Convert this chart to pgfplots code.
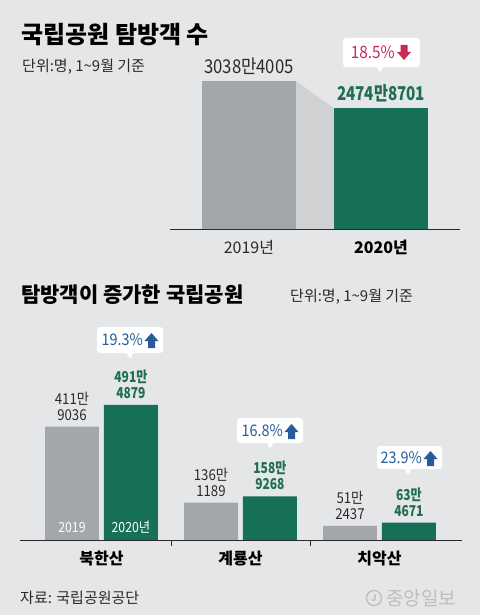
\documentclass[border=0pt]{standalone}
\usepackage{fontspec}
\setmainfont{Noto Sans CJK KR}
\usepackage{graphicx}
\usepackage{pgfplots}
\pgfplotsset{compat=1.18}

\definecolor{bg}{HTML}{E5E6E8}
\definecolor{gbar}{HTML}{A3A6AB}
\definecolor{gre}{HTML}{167058}
\definecolor{conn}{HTML}{D0D1D3}
\definecolor{gtxt}{HTML}{1F6E50}
\definecolor{crim}{HTML}{C92A55}
\definecolor{blu}{HTML}{265C9C}
\definecolor{dtxt}{HTML}{2A2A2A}
\definecolor{logo}{HTML}{BDBEC0}

\newcommand{\cn}[1]{\scalebox{0.88}[1]{#1}}
\newcommand{\cb}[1]{\scalebox{0.8}[1]{\bfseries #1}}

\pgfplotstableread{
x y
-0.212 411.9036
0.788 136.1189
1.788 51.2437
}\yrA
\pgfplotstableread{
x y
0.212 491.4879
1.212 158.9268
2.212 63.4671
}\yrB

\begin{document}
\begin{tikzpicture}
\useasboundingbox (0pt,0pt) rectangle (480pt,-615pt);
\fill[bg] (0pt,0pt) rectangle (480pt,-615pt);

% top chart
\begin{axis}[at={(170pt,-229pt)}, anchor=south west, scale only axis,
  width=290pt, height=180pt, xmin=-0.598, xmax=1.598, ymin=0, ymax=3695,
  hide axis, clip=false]
\addplot[draw=none, fill=conn] coordinates {(0.356,3038.4005) (0.644,2474.8701) (0.644,0) (0.356,0)} -- cycle;
\addplot[ybar, bar width=0.712, bar shift=0pt, fill=gbar, draw=none] coordinates {(0,3038.4005)};
\addplot[ybar, bar width=0.712, bar shift=0pt, fill=gre, draw=none] coordinates {(1,2474.8701)};
\draw[dtxt, line width=0.8pt] (axis cs:-0.598,0) -- (axis cs:1.598,0);
\node[anchor=base, inner sep=0pt, yshift=7pt, font=\fontsize{19}{19}\selectfont, text=dtxt] at (axis cs:0,3038.4005) {\cn{3038만4005}};
\node[anchor=base, inner sep=0pt, yshift=8pt, font=\fontsize{19}{19}\selectfont, text=gtxt] at (axis cs:1,2474.8701) {\cb{2474만8701}};
\node[anchor=base, inner sep=0pt, yshift=-24pt, font=\fontsize{16}{16}\selectfont, text=dtxt] at (axis cs:0,0) {2019년};
\node[anchor=base, inner sep=0pt, yshift=-24pt, font=\fontsize{16}{16}\selectfont\bfseries, text=black] at (axis cs:1,0) {2020년};
\end{axis}

% bottom chart
\begin{axis}[at={(20pt,-540pt)}, anchor=south west, scale only axis,
  width=442pt, height=220pt, xmin=-0.586, xmax=2.594, ymin=0, ymax=800,
  hide axis, clip=false]
\addplot[ybar, bar width=0.388, bar shift=0pt, fill=gbar, draw=none] table[x=x,y=y] {\yrA};
\addplot[ybar, bar width=0.388, bar shift=0pt, fill=gre, draw=none] table[x=x,y=y] {\yrB};
\draw[dtxt, line width=0.8pt] (axis cs:-0.586,0) -- (axis cs:2.594,0);
\draw[dtxt, line width=0.8pt] (axis cs:0.5,0) -- ++(0pt,-6pt);
\draw[dtxt, line width=0.8pt] (axis cs:1.5,0) -- ++(0pt,-6pt);
\node[anchor=base, inner sep=0pt, yshift=-24pt, font=\fontsize{16}{16}\selectfont\bfseries, text=black] at (axis cs:0,0) {북한산};
\node[anchor=base, inner sep=0pt, yshift=-24pt, font=\fontsize{16}{16}\selectfont\bfseries, text=black] at (axis cs:1,0) {계룡산};
\node[anchor=base, inner sep=0pt, yshift=-24pt, font=\fontsize{16}{16}\selectfont\bfseries, text=black] at (axis cs:2,0) {치악산};
\node[anchor=base, inner sep=0pt, yshift=8pt, font=\fontsize{14}{14}\selectfont, text=white] at (axis cs:-0.212,0) {\cn{2019}};
\node[anchor=base, inner sep=0pt, yshift=8pt, font=\fontsize{14}{14}\selectfont, text=white] at (axis cs:0.212,0) {\cn{2020년}};
\node[anchor=south, align=center, inner sep=0pt, yshift=6pt, font=\fontsize{15}{16}\selectfont, text=dtxt] at (axis cs:-0.212,411.9036) {\cn{411만}\\\cn{9036}};
\node[anchor=south, align=center, inner sep=0pt, yshift=6pt, font=\fontsize{15}{16}\selectfont, text=gtxt] at (axis cs:0.212,491.4879) {\cb{491만}\\\cb{4879}};
\node[anchor=south, align=center, inner sep=0pt, yshift=6pt, font=\fontsize{15}{16}\selectfont, text=dtxt] at (axis cs:0.788,136.1189) {\cn{136만}\\\cn{1189}};
\node[anchor=south, align=center, inner sep=0pt, yshift=6pt, font=\fontsize{15}{16}\selectfont, text=gtxt] at (axis cs:1.212,158.9268) {\cb{158만}\\\cb{9268}};
\node[anchor=south, align=center, inner sep=0pt, yshift=6pt, font=\fontsize{15}{16}\selectfont, text=dtxt] at (axis cs:1.788,51.2437) {\cn{51만}\\\cn{2437}};
\node[anchor=south, align=center, inner sep=0pt, yshift=6pt, font=\fontsize{15}{16}\selectfont, text=gtxt] at (axis cs:2.212,63.4671) {\cb{63만}\\\cb{4671}};
\end{axis}

% annotations in pixel coordinates (y downward)
\begin{scope}[x=1pt, y=-1pt]
\node[anchor=west, inner sep=0pt, font=\fontsize{24}{24}\selectfont\bfseries, text=black] at (21,35) {국립공원 탐방객 수};
\node[anchor=west, inner sep=0pt, font=\fontsize{15}{15}\selectfont, text=dtxt] at (22,67) {단위:명, 1\textasciitilde 9월 기준};
\node[anchor=west, inner sep=0pt, font=\fontsize{21}{21}\selectfont\bfseries, text=black] at (21,295) {탐방객이 증가한 국립공원};
\node[anchor=west, inner sep=0pt, font=\fontsize{15}{15}\selectfont, text=dtxt] at (290,297) {단위:명, 1\textasciitilde 9월 기준};
\node[anchor=west, inner sep=0pt, font=\fontsize{15}{15}\selectfont, text=dtxt] at (20,598) {자료: 국립공원공단};
\draw[logo, line width=1.3pt] (374,598) circle (7.5pt);
\node[inner sep=0pt, font=\fontsize{9}{9}\selectfont\bfseries, text=logo] at (374,598) {J};
\node[anchor=west, inner sep=0pt, font=\fontsize{19}{19}\selectfont, text=logo] at (386,598) {중앙일보};

% callout 18.5%
\fill[white, rounded corners=3pt] (343,38) rectangle (420,67);
\fill[white] (376,66) -- (380,72) -- (384,66) -- cycle;
\node[anchor=east, inner sep=0pt, font=\fontsize{17}{17}\selectfont, text=crim] at (395,52.5) {\scalebox{0.9}[1]{18.5\%}};
\fill[crim] (400.5,45) -- (400.5,52) -- (397,52) -- (404,60) -- (411,52) -- (407.5,52) -- (407.5,45) -- cycle;

% callout 19.3%
\fill[white, rounded corners=3pt] (97,327) rectangle (163,353);
\fill[white] (126,352) -- (130,359) -- (134,352) -- cycle;
\node[anchor=east, inner sep=0pt, font=\fontsize{16}{16}\selectfont, text=blu] at (143,340) {\scalebox{0.9}[1]{19.3\%}};
\fill[blu] (148,348) -- (148,341) -- (144.5,341) -- (151.5,333) -- (158.5,341) -- (155,341) -- (155,348) -- cycle;

% callout 16.8%
\fill[white, rounded corners=3pt] (237,418) rectangle (303,443);
\fill[white] (266,442) -- (270,448) -- (274,442) -- cycle;
\node[anchor=east, inner sep=0pt, font=\fontsize{16}{16}\selectfont, text=blu] at (283,431) {\scalebox{0.9}[1]{16.8\%}};
\fill[blu] (288,439) -- (288,432) -- (284.5,432) -- (291.5,424) -- (298.5,432) -- (295,432) -- (295,439) -- cycle;

% callout 23.9%
\fill[white, rounded corners=3pt] (377,446) rectangle (442,469);
\fill[white] (404,468) -- (408,475) -- (412,468) -- cycle;
\node[anchor=east, inner sep=0pt, font=\fontsize{16}{16}\selectfont, text=blu] at (422,458) {\scalebox{0.9}[1]{23.9\%}};
\fill[blu] (427,466) -- (427,459) -- (423.5,459) -- (430.5,451) -- (437.5,459) -- (434,459) -- (434,466) -- cycle;
\end{scope}
\end{tikzpicture}
\end{document}
